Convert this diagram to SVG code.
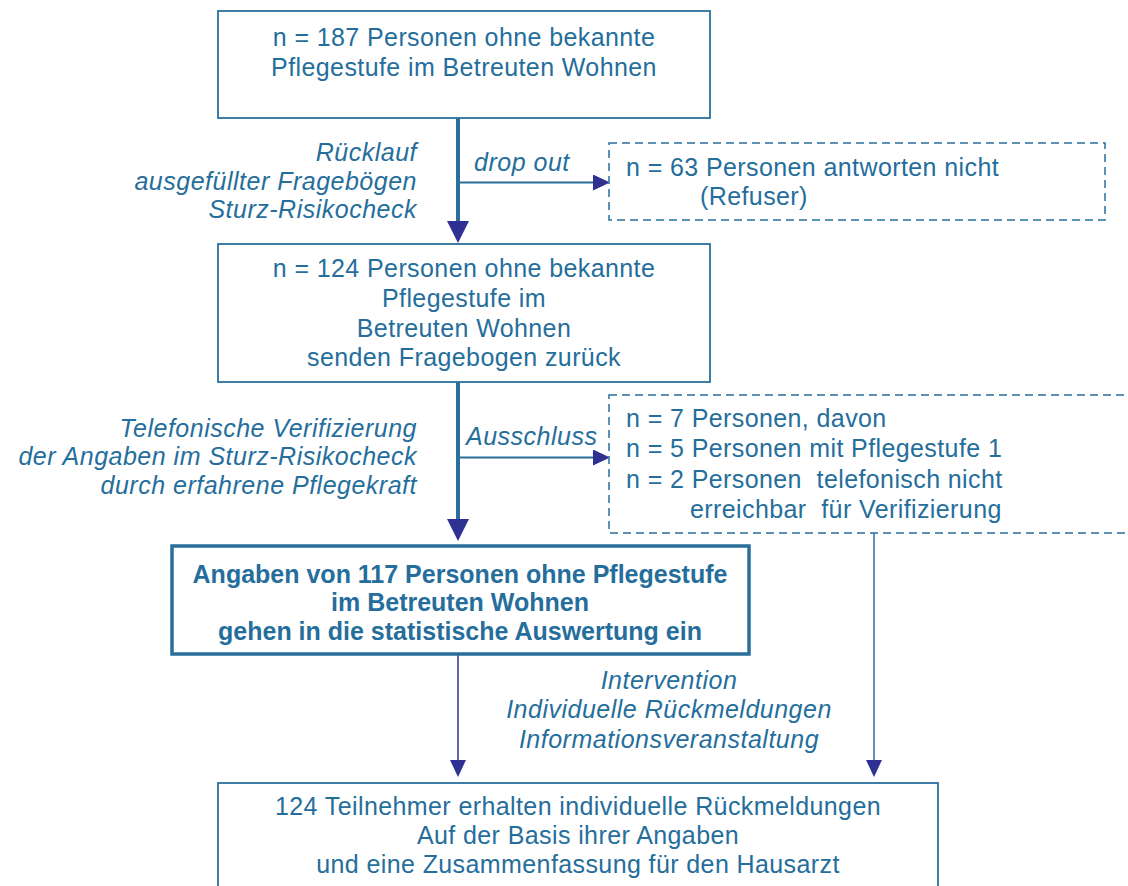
<svg xmlns="http://www.w3.org/2000/svg" width="1128" height="886" viewBox="0 0 1128 886">
<style>
.box{fill:#fff;stroke:#2a6f9c;stroke-width:1.8}
.bold{fill:#fff;stroke:#2a6f9c;stroke-width:3.5}
.dash{fill:#fff;stroke:#2a6f9c;stroke-width:1.5;stroke-dasharray:8 5}
text{font-family:"Liberation Sans",Arial,sans-serif;font-size:25px;fill:#256e9c;letter-spacing:0.4px}
.c{text-anchor:middle}
.it{font-style:italic;letter-spacing:0.5px}
.r{text-anchor:end}
.b{font-weight:bold;letter-spacing:0px}
.thick{stroke:#2a6f9c;stroke-width:4;fill:none}
.thin{stroke:#2a6f9c;stroke-width:2;fill:none}
.navy{stroke:#2e3192;stroke-width:1.5;fill:none}
</style>
<defs>
<marker id="big" viewBox="0 0 22 22" markerWidth="22" markerHeight="22" refX="0" refY="11" orient="auto" markerUnits="userSpaceOnUse"><path d="M0,0 L22,11 L0,22 z" fill="#2e3192"/></marker>
<marker id="small" viewBox="0 0 17 16" markerWidth="17" markerHeight="16" refX="0" refY="8" orient="auto" markerUnits="userSpaceOnUse"><path d="M0,0 L17,8 L0,16 z" fill="#2e3192"/></marker>
</defs>
<rect width="1128" height="886" fill="#fff"/>
<g id="connectors">
<line class="thick" x1="458" y1="118" x2="458" y2="221" marker-end="url(#big)"/>
<line class="thin" x1="458" y1="182.5" x2="593" y2="182.5" marker-end="url(#small)"/>
<line class="thick" x1="458" y1="382" x2="458" y2="519" marker-end="url(#big)"/>
<line class="thin" x1="458" y1="457.5" x2="593" y2="457.5" marker-end="url(#small)"/>
<line class="navy" x1="458" y1="655" x2="458" y2="760" marker-end="url(#small)"/>
<line class="thin" style="stroke-width:1.5" x1="874" y1="533" x2="874" y2="760" marker-end="url(#small)"/>
<text class="it r" x="417" y="161">Rücklauf</text>
<text class="it r" x="417" y="190">ausgefüllter Fragebögen</text>
<text class="it r" x="417" y="218">Sturz-Risikocheck</text>
<text class="it" x="474" y="171">drop out</text>
<text class="it r" x="417" y="437">Telefonische Verifizierung</text>
<text class="it r" x="417" y="465">der Angaben im Sturz-Risikocheck</text>
<text class="it r" x="417" y="494">durch erfahrene Pflegekraft</text>
<text class="it" x="466" y="445">Ausschluss</text>
<text class="it c" x="669" y="689">Intervention</text>
<text class="it c" x="669" y="718">Individuelle Rückmeldungen</text>
<text class="it c" x="669" y="748">Informationsveranstaltung</text>
</g>
<g id="n1">
<rect class="box" x="218" y="11" width="492" height="107"/>
<text class="c" x="464" y="46">n = 187 Personen ohne bekannte</text>
<text class="c" x="464" y="76">Pflegestufe im Betreuten Wohnen</text>
</g>
<g id="n2">
<rect class="dash" x="609" y="143" width="496" height="77"/>
<text x="626" y="176">n = 63 Personen antworten nicht</text>
<text x="700" y="205">(Refuser)</text>
</g>
<g id="n3">
<rect class="box" x="218" y="244" width="492" height="138"/>
<text class="c" x="464" y="277">n = 124 Personen ohne bekannte</text>
<text class="c" x="464" y="307">Pflegestufe im</text>
<text class="c" x="464" y="337">Betreuten Wohnen</text>
<text class="c" x="464" y="366">senden Fragebogen zurück</text>
</g>
<g id="n4">
<rect class="dash" x="609" y="395" width="540" height="138"/>
<text x="626" y="427">n = 7 Personen, davon</text>
<text x="626" y="457">n = 5 Personen mit Pflegestufe 1</text>
<text x="626" y="488" xml:space="preserve">n = 2 Personen  telefonisch nicht</text>
<text x="690" y="518" xml:space="preserve">erreichbar  für Verifizierung</text>
</g>
<g id="n5">
<rect class="bold" x="172" y="546" width="577" height="108"/>
<text class="c b" x="460" y="583">Angaben von 117 Personen ohne Pflegestufe</text>
<text class="c b" x="460" y="611">im Betreuten Wohnen</text>
<text class="c b" x="460" y="640">gehen in die statistische Auswertung ein</text>
</g>
<g id="n6">
<rect class="box" x="218" y="783" width="720" height="130"/>
<text class="c" x="578" y="815">124 Teilnehmer erhalten individuelle Rückmeldungen</text>
<text class="c" x="578" y="844">Auf der Basis ihrer Angaben</text>
<text class="c" x="578" y="873">und eine Zusammenfassung für den Hausarzt</text>
</g>
</svg>
